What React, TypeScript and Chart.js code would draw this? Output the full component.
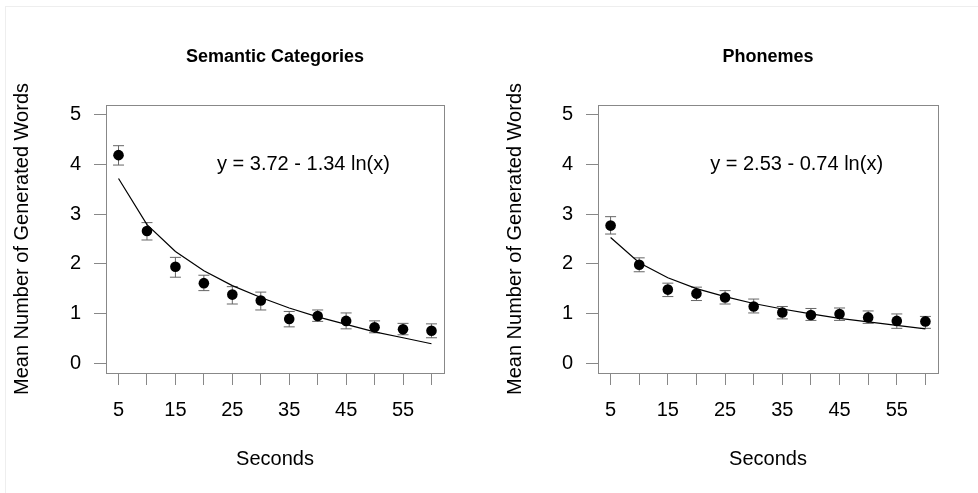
import React, { useEffect, useRef } from "react";
import { Chart, registerables } from "chart.js";

Chart.register(...registerables);

// ---- data ----
const seconds = [5, 10, 15, 20, 25, 30, 35, 40, 45, 50, 55, 60];
const xTickLabels = [5, 15, 25, 35, 45, 55];
const yTicks = [0, 1, 2, 3, 4, 5];

const semanticMean = [4.19, 2.66, 1.94, 1.61, 1.38, 1.26, 0.89, 0.95, 0.85, 0.72, 0.68, 0.65];
const semanticUpper = [4.38, 2.83, 2.13, 1.77, 1.54, 1.43, 1.04, 1.07, 1.01, 0.85, 0.8, 0.79];
const semanticLower = [3.99, 2.48, 1.73, 1.46, 1.19, 1.07, 0.73, 0.84, 0.69, 0.61, 0.57, 0.51];
const semanticFit = [3.72, 2.79, 2.25, 1.86, 1.56, 1.32, 1.11, 0.93, 0.78, 0.63, 0.51, 0.39];

const phonemeMean = [2.77, 1.98, 1.48, 1.4, 1.32, 1.14, 1.02, 0.97, 0.99, 0.92, 0.85, 0.84];
const phonemeUpper = [2.95, 2.12, 1.61, 1.53, 1.46, 1.29, 1.14, 1.1, 1.11, 1.05, 0.99, 0.94];
const phonemeLower = [2.6, 1.84, 1.34, 1.26, 1.19, 1.01, 0.89, 0.86, 0.86, 0.8, 0.7, 0.7];
const phonemeFit = [2.53, 2.02, 1.72, 1.5, 1.34, 1.2, 1.09, 0.99, 0.9, 0.83, 0.76, 0.69];

const FONT = "'Liberation Sans', Arial, Helvetica, sans-serif";
const AXIS_GRAY = "#888888";
const BAR_GRAY = "#666666";

type PanelProps = {
  left: number;
  title: string;
  equation: string;
  mean: number[];
  upper: number[];
  lower: number[];
  fit: number[];
  yWidth: number;
  yTitlePad: number;
  padRight: number;
};

function Panel(props: PanelProps) {
  const ref = useRef<HTMLCanvasElement | null>(null);

  useEffect(() => {
    const canvas = ref.current;
    if (!canvas) return;

    const decor = {
      id: "decor",
      beforeDatasetsDraw(chart: any) {
        const { ctx, scales } = chart;
        const xs = scales.x;
        const ys = scales.y;
        ctx.save();
        ctx.strokeStyle = BAR_GRAY;
        ctx.lineWidth = 1;
        const cap = 5.5;
        seconds.forEach((s, i) => {
          const px = xs.getPixelForValue(s);
          const pu = ys.getPixelForValue(props.upper[i]);
          const pl = ys.getPixelForValue(props.lower[i]);
          ctx.beginPath();
          ctx.moveTo(px, pu);
          ctx.lineTo(px, pl);
          ctx.moveTo(px - cap, pu);
          ctx.lineTo(px + cap, pu);
          ctx.moveTo(px - cap, pl);
          ctx.lineTo(px + cap, pl);
          ctx.stroke();
        });
        ctx.restore();
      },
      afterDraw(chart: any) {
        const { ctx, chartArea, scales } = chart;
        ctx.save();
        ctx.strokeStyle = AXIS_GRAY;
        ctx.lineWidth = 1;
        ctx.strokeRect(
          Math.round(chartArea.left) + 0.5,
          Math.round(chartArea.top) + 0.5,
          Math.round(chartArea.right - chartArea.left),
          Math.round(chartArea.bottom - chartArea.top)
        );
        ctx.fillStyle = "#000";
        ctx.textAlign = "center";
        ctx.textBaseline = "middle";
        ctx.font = `bold 18px ${FONT}`;
        ctx.fillText(props.title, (chartArea.left + chartArea.right) / 2, 57);
        ctx.font = `20px ${FONT}`;
        ctx.fillText(
          props.equation,
          scales.x.getPixelForValue(37.5),
          scales.y.getPixelForValue(4)
        );
        ctx.restore();
      },
    };

    const chart = new Chart(canvas, {
      type: "scatter",
      data: {
        datasets: [
          {
            type: "line",
            data: seconds.map((s, i) => ({ x: s, y: props.fit[i] })),
            borderColor: "#000",
            borderWidth: 1.2,
            pointRadius: 0,
            fill: false,
            tension: 0,
          } as any,
          {
            type: "scatter",
            data: seconds.map((s, i) => ({ x: s, y: props.mean[i] })),
            backgroundColor: "#000",
            borderColor: "#000",
            pointRadius: 5.3,
            borderWidth: 0,
          },
        ],
      },
      options: {
        responsive: false,
        animation: false,
        events: [],
        layout: { padding: { left: 0, top: 105, right: props.padRight, bottom: 0 } },
        plugins: {
          legend: { display: false },
          tooltip: { enabled: false },
          title: { display: false },
        },
        scales: {
          x: {
            type: "linear",
            min: 2.8,
            max: 62.2,
            afterBuildTicks: (s: any) => {
              s.ticks = seconds.map((v) => ({ value: v }));
            },
            afterFit: (s: any) => {
              s.height = 120;
            },
            ticks: {
              autoSkip: false,
              maxRotation: 0,
              padding: 13,
              color: "#000",
              font: { family: FONT, size: 20 },
              callback: (v: any) => (xTickLabels.includes(Number(v)) ? String(v) : ""),
            },
            grid: {
              display: true,
              drawOnChartArea: false,
              drawTicks: true,
              tickLength: 12,
              color: AXIS_GRAY,
            },
            border: { display: false },
            title: {
              display: true,
              text: "Seconds",
              color: "#000",
              font: { family: FONT, size: 20 },
              padding: { top: 0, bottom: 22 },
            },
          },
          y: {
            type: "linear",
            min: -0.2,
            max: 5.2,
            afterBuildTicks: (s: any) => {
              s.ticks = yTicks.map((v) => ({ value: v }));
            },
            afterFit: (s: any) => {
              s.width = props.yWidth;
            },
            ticks: {
              autoSkip: false,
              padding: 13,
              color: "#000",
              font: { family: FONT, size: 20 },
              callback: (v: any) => String(v),
            },
            grid: {
              display: true,
              drawOnChartArea: false,
              drawTicks: true,
              tickLength: 12,
              color: AXIS_GRAY,
            },
            border: { display: false },
            title: {
              display: true,
              text: "Mean Number of Generated Words",
              color: "#000",
              font: { family: FONT, size: 20 },
              padding: { top: props.yTitlePad, bottom: 0 },
            },
          },
        },
      } as any,
      plugins: [decor],
    });

    return () => {
      chart.destroy();
    };
  }, []);

  return (
    <canvas
      ref={ref}
      width={489}
      height={493}
      style={{ position: "absolute", left: props.left, top: 0, width: 489, height: 493 }}
    />
  );
}

export default function App() {
  return (
    <div
      style={{
        position: "absolute",
        left: 0,
        top: 0,
        width: 978,
        height: 493,
        background: "#fff",
        overflow: "hidden",
      }}
    >
      <div
        style={{
          position: "absolute",
          left: 5,
          top: 6,
          width: 990,
          height: 500,
          borderLeft: "1px solid #eeeeee",
          borderTop: "1px solid #eeeeee",
        }}
      />
      <Panel
        left={0}
        title="Semantic Categories"
        equation="y = 3.72 - 1.34 ln(x)"
        mean={semanticMean}
        upper={semanticUpper}
        lower={semanticLower}
        fit={semanticFit}
        yWidth={106}
        yTitlePad={10}
        padRight={45}
      />
      <Panel
        left={489}
        title="Phonemes"
        equation="y = 2.53 - 0.74 ln(x)"
        mean={phonemeMean}
        upper={phonemeUpper}
        lower={phonemeLower}
        fit={phonemeFit}
        yWidth={109}
        yTitlePad={14}
        padRight={40}
      />
    </div>
  );
}
